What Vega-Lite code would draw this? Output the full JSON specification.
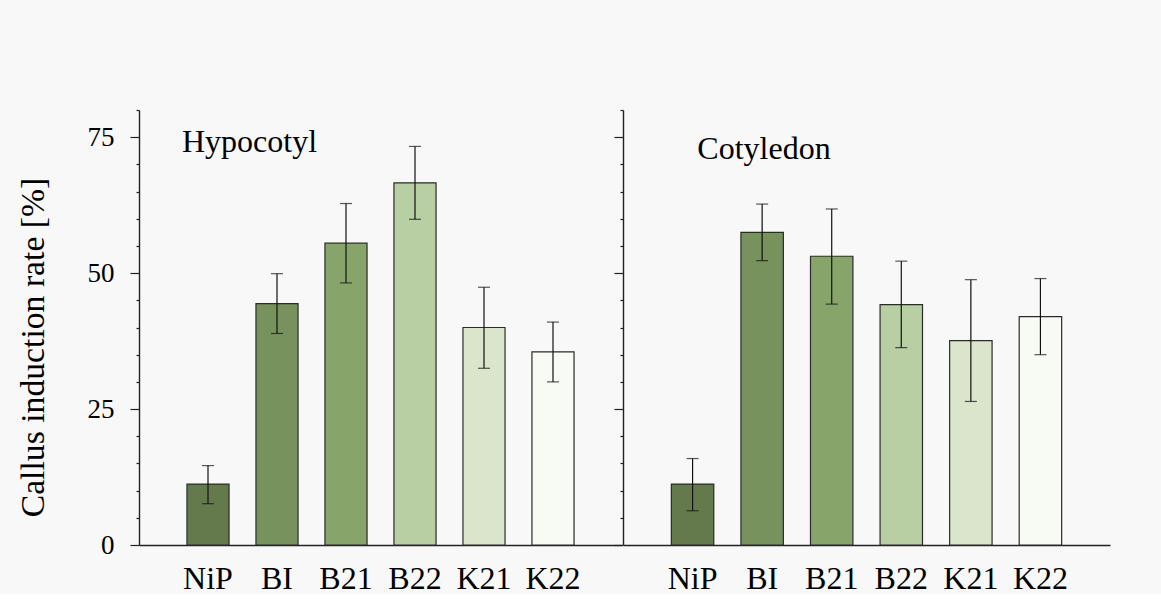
{
  "$schema": "https://vega.github.io/schema/vega-lite/v6.json",
  "autosize": {"type": "pad"},
  "padding": {"left": 16, "top": 109, "right": 52, "bottom": 0},
  "background": "#f8f8f8",
  "config": {
    "view": {"stroke": null},
    "font": "Liberation Serif",
    "axis": {"grid": false, "domainColor": "#222222", "domainWidth": 1.4, "tickColor": "#222222", "tickWidth": 1.2, "labelColor": "#000000", "titleColor": "#000000", "labelFont": "Liberation Serif", "titleFont": "Liberation Serif"}
  },
  "datasets": {
    "rates": [
      {"tissue": "Hypocotyl", "line": "NiP", "mean": 11.2, "lo": 7.6, "hi": 14.6},
      {"tissue": "Hypocotyl", "line": "BI", "mean": 44.4, "lo": 38.9, "hi": 49.9},
      {"tissue": "Hypocotyl", "line": "B21", "mean": 55.5, "lo": 48.2, "hi": 62.8},
      {"tissue": "Hypocotyl", "line": "B22", "mean": 66.6, "lo": 59.9, "hi": 73.3},
      {"tissue": "Hypocotyl", "line": "K21", "mean": 40.0, "lo": 32.5, "hi": 47.4},
      {"tissue": "Hypocotyl", "line": "K22", "mean": 35.5, "lo": 30.0, "hi": 41.0},
      {"tissue": "Cotyledon", "line": "NiP", "mean": 11.2, "lo": 6.3, "hi": 15.9},
      {"tissue": "Cotyledon", "line": "BI", "mean": 57.5, "lo": 52.3, "hi": 62.7},
      {"tissue": "Cotyledon", "line": "B21", "mean": 53.1, "lo": 44.3, "hi": 61.8},
      {"tissue": "Cotyledon", "line": "B22", "mean": 44.2, "lo": 36.3, "hi": 52.2},
      {"tissue": "Cotyledon", "line": "K21", "mean": 37.6, "lo": 26.4, "hi": 48.8},
      {"tissue": "Cotyledon", "line": "K22", "mean": 42.0, "lo": 35.0, "hi": 49.0}
    ],
    "tissues": [
      {"tissue": "Hypocotyl", "line": "NiP", "level": 72.2},
      {"tissue": "Cotyledon", "line": "NiP", "level": 70.9}
    ]
  },
  "bounds": "flush",
  "spacing": 1,
  "hconcat": [
    {
      "width": 483,
      "height": 435,
      "data": {"name": "rates"},
      "transform": [{"filter": "datum.tissue === 'Hypocotyl'"}],
      "encoding": {
        "x": {
          "field": "line", "type": "nominal",
          "sort": ["NiP", "BI", "B21", "B22", "K21", "K22"],
          "scale": {"paddingInner": 0.39, "paddingOuter": 0.695},
          "axis": {"title": null, "labelAngle": 0, "labelFontSize": 32, "ticks": false, "labelPadding": 18}
        }
      },
      "layer": [
        {
          "mark": {"type": "bar", "stroke": "#2b2b2b", "strokeWidth": 1.2},
          "encoding": {
            "y": {"field": "mean", "type": "quantitative", "scale": {"domain": [0, 80], "nice": false},
              "axis": {"orient": "left", "values": [0, 25, 50, 75], "tickSize": 9, "labelFontSize": 27, "labelPadding": 16, "title": "Callus induction rate [%]", "titleFontSize": 33.7, "titleFontWeight": "normal", "titlePadding": 37, "titleY": 237}},
            "color": {"field": "line", "type": "nominal",
              "scale": {"domain": ["NiP", "BI", "B21", "B22", "K21", "K22"], "range": ["#647a4c", "#77925d", "#87a56a", "#b8cea3", "#dae5cc", "#f8faf4"]},
              "legend": null}
          }
        },
        {
          "mark": {"type": "rule", "color": "#111111", "strokeWidth": 1.2},
          "encoding": {
            "y": {"field": "lo", "type": "quantitative",
              "axis": {"orient": "left", "values": [5, 10, 15, 20, 30, 35, 40, 45, 55, 60, 65, 70, 80], "tickSize": 3, "labels": false, "domain": false, "title": null}},
            "y2": {"field": "hi"}
          }
        },
        {
          "mark": {"type": "tick", "size": 12, "thickness": 1.2, "color": "#111111"},
          "encoding": {"y": {"field": "lo", "type": "quantitative", "axis": null}}
        },
        {
          "mark": {"type": "tick", "size": 12, "thickness": 1.2, "color": "#111111"},
          "encoding": {"y": {"field": "hi", "type": "quantitative", "axis": null}}
        },
        {
          "data": {"name": "tissues"},
          "transform": [{"filter": "datum.tissue === 'Hypocotyl'"}],
          "mark": {"type": "text", "align": "left", "baseline": "alphabetic", "fontSize": 32, "dx": -5, "color": "#000000"},
          "encoding": {
            "x": {"field": "line", "type": "nominal", "bandPosition": 0},
            "y": {"field": "level", "type": "quantitative", "axis": null},
            "text": {"field": "tissue"}
          }
        }
      ],
      "resolve": {"axis": {"y": "independent"}}
    },
    {
      "width": 487,
      "height": 435,
      "data": {"name": "rates"},
      "transform": [{"filter": "datum.tissue === 'Cotyledon'"}],
      "encoding": {
        "x": {
          "field": "line", "type": "nominal",
          "sort": ["NiP", "BI", "B21", "B22", "K21", "K22"],
          "scale": {"paddingInner": 0.39, "paddingOuter": 0.695},
          "axis": {"title": null, "labelAngle": 0, "labelFontSize": 32, "ticks": false, "labelPadding": 18}
        }
      },
      "layer": [
        {
          "mark": {"type": "bar", "stroke": "#2b2b2b", "strokeWidth": 1.2},
          "encoding": {
            "y": {"field": "mean", "type": "quantitative", "scale": {"domain": [0, 80], "nice": false},
              "axis": {"orient": "left", "values": [0, 25, 50, 75], "tickSize": 9, "labels": false, "title": null}},
            "color": {"field": "line", "type": "nominal",
              "scale": {"domain": ["NiP", "BI", "B21", "B22", "K21", "K22"], "range": ["#647a4c", "#77925d", "#87a56a", "#b8cea3", "#dae5cc", "#f8faf4"]},
              "legend": null}
          }
        },
        {
          "mark": {"type": "rule", "color": "#111111", "strokeWidth": 1.2},
          "encoding": {
            "y": {"field": "lo", "type": "quantitative",
              "axis": {"orient": "left", "values": [5, 10, 15, 20, 30, 35, 40, 45, 55, 60, 65, 70, 80], "tickSize": 3, "labels": false, "domain": false, "title": null}},
            "y2": {"field": "hi"}
          }
        },
        {
          "mark": {"type": "tick", "size": 12, "thickness": 1.2, "color": "#111111"},
          "encoding": {"y": {"field": "lo", "type": "quantitative", "axis": null}}
        },
        {
          "mark": {"type": "tick", "size": 12, "thickness": 1.2, "color": "#111111"},
          "encoding": {"y": {"field": "hi", "type": "quantitative", "axis": null}}
        },
        {
          "data": {"name": "tissues"},
          "transform": [{"filter": "datum.tissue === 'Cotyledon'"}],
          "mark": {"type": "text", "align": "left", "baseline": "alphabetic", "fontSize": 32, "dx": 26, "color": "#000000"},
          "encoding": {
            "x": {"field": "line", "type": "nominal", "bandPosition": 0},
            "y": {"field": "level", "type": "quantitative", "axis": null},
            "text": {"field": "tissue"}
          }
        }
      ],
      "resolve": {"axis": {"y": "independent"}}
    }
  ]
}
